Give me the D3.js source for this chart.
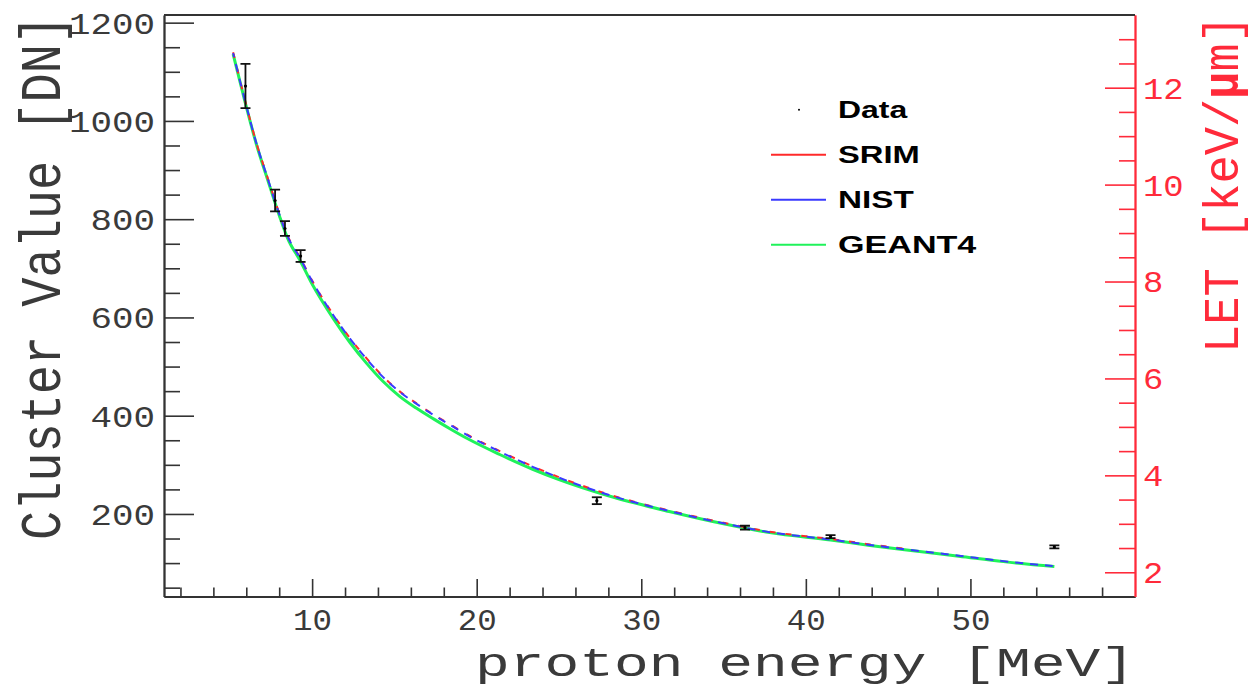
<!DOCTYPE html>
<html><head><meta charset="utf-8">
<script src="https://cdn.jsdelivr.net/npm/d3@7"></script>
<style>
html,body{margin:0;padding:0;background:#fff;}
svg{display:block;}
</style></head>
<body>
<svg id="chart" width="1253" height="689"></svg>
<script>
// ---- data ----
const curveEnergy = [5.2, 5.9, 6.6, 7.3, 8.0, 8.5, 9.3, 10.0, 11.3, 12.3, 13.3, 14.3, 15.3, 16.3, 17.4, 18.4, 19.4, 21.4, 23.4, 25.0, 28.0, 31.7, 35.0, 37.8, 41.5, 43.9, 46.0, 49.3, 52.0, 55.0];
const srimValues   = [1140, 1045, 957, 884, 812, 767, 720, 675, 605, 558, 517, 480, 450, 426, 402, 382, 362, 328, 297, 275, 240, 207, 182, 164, 149, 138, 129, 116, 105, 95];
const nistValues   = [1138, 1044, 956, 883, 811, 766, 719, 674, 604, 557, 516, 479, 449, 425, 401, 381, 361, 327, 296, 274, 239, 206, 181, 163, 148, 137, 128, 115, 104, 94];
const geantValues  = [1136, 1042, 954, 880, 808, 762, 714, 668, 597, 549, 507, 470, 440, 416, 393, 373, 354, 321, 291, 270, 237, 205, 180, 162, 147, 136, 127, 114, 103, 93];
const srimMaxEnergy = 45;

const dataEnergy = [5.95, 7.75, 8.35, 9.3, 27.3, 36.3, 41.5, 55.1];
const dataValue  = [1071, 838, 781, 725, 227, 172, 154, 133];
const dataError  = [45, 22, 15, 12, 7, 4, 3, 3];

const xMajorTicks = [10, 20, 30, 40, 50];
const yMajorTicks = [200, 400, 600, 800, 1000, 1200];
const letMajorTicks = [2, 4, 6, 8, 10, 12];

const legendLabels = ["Data", "SRIM", "NIST", "GEANT4"];
const seriesColors = {SRIM: "#ff2a2a", NIST: "#3a3aff", GEANT4: "#1ff25a"};

// ---- layout ----
const svg = d3.select("#chart");
svg.append("rect").attr("width", 1253).attr("height", 689).attr("fill", "#fff");
const L = 164, R = 1135, T = 15, B = 596.5;
const x = d3.scaleLinear().domain([1, 60]).range([L, R]);
const y = d3.scaleLinear().domain([32, 1215.6]).range([B, T]);
const yr = d3.scaleLinear().domain([1.5, 13.5]).range([B, T]);
const axisCol = "#333";
const red = "#ff2a3a";
const mono = "'Liberation Mono', 'DejaVu Sans Mono', monospace";
const fmt = d3.format("d");

function stretchLabels(g, perChar) {
  g.selectAll("text").each(function() {
    const t = d3.select(this);
    const s = t.text();
    if (s.length) t.attr("textLength", s.length * perChar).attr("lengthAdjust", "spacingAndGlyphs");
  });
}

// minor ticks
const xMinor = d3.range(2, 60, 2).filter(v => !xMajorTicks.includes(v));
const yMinor = d3.range(50, 1215, 50).filter(v => !yMajorTicks.includes(v));
const rMinor = d3.range(2.5, 13.5, 0.5).filter(v => !letMajorTicks.includes(v));

// bottom axis
const gxm = svg.append("g").attr("transform", `translate(0,${B})`)
  .call(d3.axisBottom(x).tickValues(xMinor).tickSize(-9).tickSizeOuter(0).tickFormat(""));
const gx = svg.append("g").attr("transform", `translate(0,${B})`)
  .call(d3.axisBottom(x).tickValues(xMajorTicks).tickSize(-17.5).tickSizeOuter(0).tickPadding(13).tickFormat(fmt));
// left axis
const gym = svg.append("g").attr("transform", `translate(${L},0)`)
  .call(d3.axisLeft(y).tickValues(yMinor).tickSize(-16).tickSizeOuter(0).tickFormat(""));
const gy = svg.append("g").attr("transform", `translate(${L},0)`)
  .call(d3.axisLeft(y).tickValues(yMajorTicks).tickSize(-30).tickSizeOuter(0).tickPadding(9).tickFormat(fmt));
// right axis
const grm = svg.append("g").attr("transform", `translate(${R},0)`)
  .call(d3.axisRight(yr).tickValues(rMinor).tickSize(-16).tickSizeOuter(0).tickFormat(""));
const gr = svg.append("g").attr("transform", `translate(${R},0)`)
  .call(d3.axisRight(yr).tickValues(letMajorTicks).tickSize(-30).tickSizeOuter(0).tickPadding(8).tickFormat(fmt));

[gxm, gx, gym, gy].forEach(g => {
  g.selectAll("line").attr("stroke", axisCol).attr("stroke-width", 1.6);
  g.select(".domain").attr("stroke", axisCol).attr("stroke-width", 1.8);
  g.selectAll("text").attr("font-family", mono).attr("font-size", 29).attr("fill", "#3a3a3a");
});
[grm, gr].forEach(g => {
  g.selectAll("line").attr("stroke", red).attr("stroke-width", 1.6);
  g.select(".domain").attr("stroke", red).attr("stroke-width", 1.8);
  g.selectAll("text").attr("font-family", mono).attr("font-size", 29).attr("fill", red);
});
stretchLabels(gy, 21.5);
stretchLabels(gx, 19.5);
stretchLabels(gr, 20.3);
gy.selectAll("text").attr("dy", "0.36em");
gr.selectAll("text").attr("dy", "0.36em");
gx.selectAll("text").attr("dy", "0.71em");

// top frame
svg.append("line").attr("x1", L).attr("x2", R).attr("y1", T).attr("y2", T)
  .attr("stroke", axisCol).attr("stroke-width", 1.8);

// axis titles
svg.append("text").text("proton energy [MeV]")
  .attr("x", R).attr("y", 676).attr("text-anchor", "end")
  .attr("font-family", mono).attr("font-size", 40).attr("fill", "#3a3a3a")
  .attr("textLength", 660).attr("lengthAdjust", "spacingAndGlyphs");

svg.append("text").text("Cluster Value [DN]")
  .attr("transform", "translate(60,540) scale(1.3,1) rotate(-90)")
  .attr("font-family", mono).attr("font-size", 44).attr("fill", "#3a3a3a")
  .attr("textLength", 525).attr("lengthAdjust", "spacingAndGlyphs");

const letT = svg.append("text")
  .attr("transform", "translate(1238,353) scale(1.3,1) rotate(-90)")
  .attr("font-family", mono).attr("font-size", 38).attr("fill", red)
  .attr("textLength", 338).attr("lengthAdjust", "spacingAndGlyphs");
letT.append("tspan").text("LET [keV/");
letT.append("tspan").text("µ").attr("font-family", "'Liberation Sans', Arial, sans-serif").attr("font-weight", "bold");
letT.append("tspan").text("m]");

// curves
svg.append("clipPath").attr("id", "clip").append("rect")
  .attr("x", L).attr("y", T).attr("width", R - L).attr("height", B - T);
const plot = svg.append("g").attr("clip-path", "url(#clip)");
const line = d3.line().x(d => x(d[0])).y(d => y(d[1])).curve(d3.curveMonotoneX);

const geantPts = curveEnergy.map((e, i) => [e, geantValues[i]]);
geantPts[geantPts.length - 1] = [55.1, geantValues[geantValues.length - 1]];
const nistPts = curveEnergy.map((e, i) => [e, nistValues[i]]);
const srimPts = curveEnergy.map((e, i) => [e, srimValues[i]]).filter(d => d[0] <= srimMaxEnergy + 1.5);

plot.append("path").attr("d", line(geantPts)).attr("fill", "none")
  .attr("stroke", seriesColors.GEANT4).attr("stroke-width", 3);
plot.append("path").attr("d", line(srimPts)).attr("fill", "none")
  .attr("stroke", seriesColors.SRIM).attr("stroke-width", 2).attr("stroke-dasharray", "6 10");
plot.append("path").attr("d", line(nistPts)).attr("fill", "none")
  .attr("stroke", seriesColors.NIST).attr("stroke-width", 2).attr("stroke-dasharray", "8 7").attr("stroke-dashoffset", 4);

// data points with error bars
const pts = plot.append("g");
dataEnergy.forEach((e, i) => {
  const cx = x(e), v = dataValue[i], err = dataError[i];
  const y0 = y(v - err), y1 = y(v + err);
  pts.append("line").attr("x1", cx).attr("x2", cx).attr("y1", y0).attr("y2", y1)
    .attr("stroke", "#111").attr("stroke-width", 1.8);
  [y0, y1].forEach(yy => pts.append("line").attr("x1", cx - 5).attr("x2", cx + 5)
    .attr("y1", yy).attr("y2", yy).attr("stroke", "#111").attr("stroke-width", 1.8));
  pts.append("circle").attr("cx", cx).attr("cy", y(v)).attr("r", 1.6).attr("fill", "#000");
});

// legend
const sans = "'Liberation Sans', Arial, sans-serif";
const legendBase = [118.3, 163.3, 208.3, 253.3];
const legendLen = [69.3, 81.7, 75.7, 138.3];
legendLabels.forEach((lab, i) => {
  svg.append("text").text(lab).attr("x", 838).attr("y", legendBase[i])
    .attr("font-family", sans).attr("font-weight", "bold").attr("font-size", 24.5).attr("fill", "#000")
    .attr("textLength", legendLen[i]).attr("lengthAdjust", "spacingAndGlyphs");
  if (i === 0) {
    svg.append("circle").attr("cx", 799).attr("cy", legendBase[i] - 8.5).attr("r", 1).attr("fill", "#000");
  } else {
    svg.append("line").attr("x1", 771).attr("x2", 826)
      .attr("y1", legendBase[i] - 8.5).attr("y2", legendBase[i] - 8.5)
      .attr("stroke", seriesColors[lab]).attr("stroke-width", 2);
  }
});
</script>
</body></html>
